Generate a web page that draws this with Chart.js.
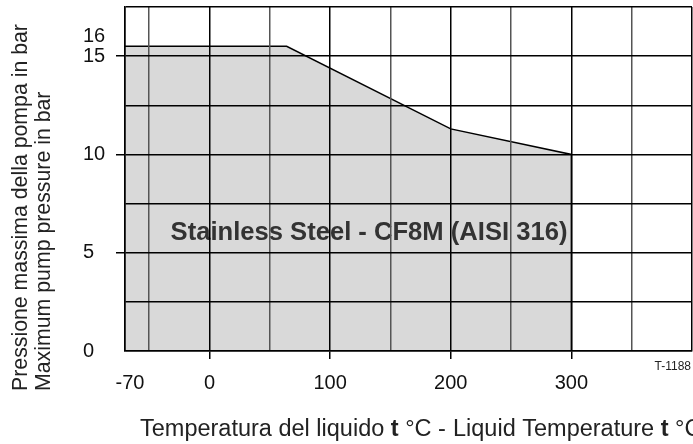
<!DOCTYPE html>
<html><head><meta charset="utf-8">
<script src="https://cdn.jsdelivr.net/npm/chart.js@4.4.1/dist/chart.umd.min.js"></script>
<style>html,body{margin:0;padding:0;background:#fff;overflow:hidden}</style>
</head><body><canvas id="c" width="693" height="444"></canvas>
<script>
// ---- data ----
const temperatures = [-70, 64, 200, 300, 300];
const pressures = [15.5, 15.5, 11.3, 10, 0];
const xTickValues = [-70, -50, 0, 50, 100, 150, 200, 250, 300, 350, 400];
const xTickLabels = {'-70': '\u2002-70', '0': '0', '100': '100', '200': '200', '300': '300'};
const yTickValues = [0, 2.5, 5, 7.5, 10, 12.5, 15, 16, 17.5];
const yLabeledTicks = [0, 5, 10, 15, 16];
const areaLabel = 'Stainless Steel - CF8M (AISI 316)';
const yTitleLines = ['Pressione massima della pompa in bar', 'Maximum pump pressure in bar'];
const xTitleParts = [['Temperatura del liquido ', false, 140], ['t', true, null], [' °C - ', false, null], ['Liquid Temperature ', false, 453], ['t', true, null], [' °C', false, null]];
const codeLabel = 'T-1188';

const FONT = "'Liberation Sans', Arial, Helvetica, sans-serif";

const textPlugin = {
  id: 'texts',
  afterDatasetsDraw(chart) {
    const ctx = chart.ctx;
    ctx.save();
    ctx.font = 'bold 25.6px ' + FONT;
    ctx.fillStyle = '#333';
    ctx.textAlign = 'center';
    ctx.textBaseline = 'alphabetic';
    ctx.fillText(areaLabel, 369, 240);
    ctx.restore();
  },
  afterDraw(chart) {
    const ctx = chart.ctx;
    ctx.save();
    // y title
    ctx.fillStyle = '#222';
    ctx.font = '21.3px ' + FONT;
    ctx.textAlign = 'left';
    ctx.textBaseline = 'middle';
    [21, 44].forEach((x, i) => {
      ctx.save();
      ctx.translate(x, 391);
      ctx.rotate(-Math.PI / 2);
      ctx.fillText(yTitleLines[i], 0, 0);
      ctx.restore();
    });
    // x title
    ctx.textBaseline = 'alphabetic';
    let x = 140;
    xTitleParts.forEach(([t, b, px]) => {
      if (px !== null) x = px;
      ctx.font = (b ? 'bold ' : '') + '23.5px ' + FONT;
      ctx.fillText(t, x, 436);
      x += ctx.measureText(t).width;
    });
    // code
    ctx.font = '12px ' + FONT;
    ctx.textAlign = 'right';
    ctx.fillText(codeLabel, 691, 370);
    ctx.restore();
  }
};

function fixPad(s) { s.paddingTop = 0; s.paddingBottom = 0; s.paddingLeft = 0; s.paddingRight = 0; }

new Chart(document.getElementById('c'), {
  type: 'line',
  data: {
    datasets: [{
      data: temperatures.map((t, i) => ({x: t, y: pressures[i]})),
      borderColor: '#000',
      borderWidth: 1.5,
      backgroundColor: '#d9d9d9',
      fill: 'origin',
      pointRadius: 0,
      tension: 0
    }]
  },
  options: {
    responsive: false,
    animation: false,
    devicePixelRatio: 1,
    layout: {padding: {left: 83, top: 7, right: 1, bottom: 0}},
    plugins: {legend: {display: false}, tooltip: {enabled: false}},
    scales: {
      x: {
        type: 'linear',
        min: -70, max: 400,
        afterBuildTicks: s => { s.ticks = xTickValues.map(v => ({value: v})); },
        afterFit: s => { s.height = 93; fixPad(s); },
        ticks: {
          autoSkip: false, maxRotation: 0, padding: 12,
          color: '#111',
          font: {family: FONT, size: 20},
          callback: v => xTickLabels[String(v)] || ''
        },
        grid: {
          z: 1,
          lineWidth: 1.5,
          tickLength: 8,
          color: c => (c.tick && (c.tick.value % 100 === 0 || c.tick.value === -70 || c.tick.value === 400)) ? '#000' : '#555',
          tickColor: c => (c.tick && [0, 100, 200, 300].includes(c.tick.value)) ? '#000' : 'rgba(0,0,0,0)'
        },
        border: {display: true, color: '#000', width: 1.5, z: 1}
      },
      y: {
        min: 0, max: 17.5,
        afterBuildTicks: s => { s.ticks = yTickValues.map(v => ({value: v})); },
        afterFit: s => { s.width = 42; fixPad(s); },
        ticks: {
          autoSkip: false, crossAlign: 'far', padding: 10,
          color: '#111',
          font: {family: FONT, size: 20},
          callback: v => yLabeledTicks.includes(v) ? String(v) : ''
        },
        grid: {
          z: 1,
          lineWidth: 1.5,
          tickLength: 9,
          color: c => (c.tick && c.tick.value === 16) ? 'rgba(0,0,0,0)' : '#000',
          tickColor: c => (c.tick && [5, 10, 15].includes(c.tick.value)) ? '#000' : 'rgba(0,0,0,0)'
        },
        border: {display: true, color: '#000', width: 1.5, z: 1}
      }
    }
  },
  plugins: [textPlugin]
});
</script>
</body></html>
